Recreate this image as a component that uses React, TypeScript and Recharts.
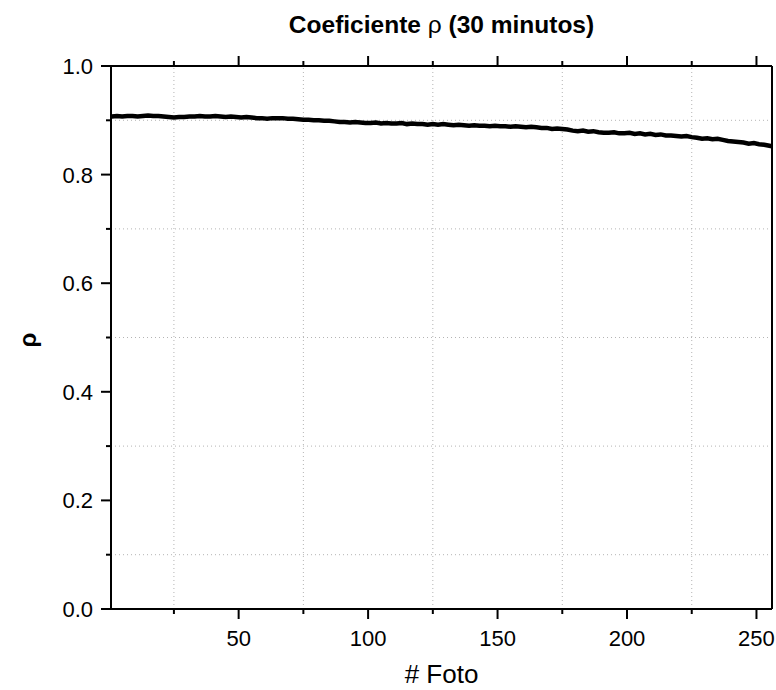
import React from 'react';
import { LineChart, Line, XAxis, YAxis, ReferenceLine } from 'recharts';

const fotoX = [
  1, 3, 5, 7, 9, 11, 13, 15, 17, 19,
  21, 23, 25, 27, 29, 31, 33, 35, 37, 39,
  41, 43, 45, 47, 49, 51, 53, 55, 57, 59,
  61, 63, 65, 67, 69, 71, 73, 75, 77, 79,
  81, 83, 85, 87, 89, 91, 93, 95, 97, 99,
  101, 103, 105, 107, 109, 111, 113, 115, 117, 119,
  121, 123, 125, 127, 129, 131, 133, 135, 137, 139,
  141, 143, 145, 147, 149, 151, 153, 155, 157, 159,
  161, 163, 165, 167, 169, 171, 173, 175, 177, 179,
  181, 183, 185, 187, 189, 191, 193, 195, 197, 199,
  201, 203, 205, 207, 209, 211, 213, 215, 217, 219,
  221, 223, 225, 227, 229, 231, 233, 235, 237, 239,
  241, 243, 245, 247, 249, 251, 253, 255, 256,
];

const rhoValues = [
  0.907, 0.908, 0.907, 0.908, 0.908, 0.907, 0.908, 0.909, 0.908, 0.908,
  0.907, 0.906, 0.905, 0.906, 0.906, 0.907, 0.907, 0.908, 0.907, 0.907,
  0.908, 0.907, 0.906, 0.907, 0.906, 0.905, 0.906, 0.905, 0.904, 0.904,
  0.903, 0.904, 0.904, 0.904, 0.903, 0.903, 0.902, 0.901, 0.901, 0.900,
  0.900, 0.899, 0.899, 0.898, 0.897, 0.897, 0.896, 0.897, 0.896, 0.895,
  0.895, 0.896, 0.894, 0.895, 0.894, 0.894, 0.895, 0.893, 0.894, 0.893,
  0.893, 0.892, 0.893, 0.892, 0.893, 0.892, 0.891, 0.892, 0.891, 0.890,
  0.891, 0.890, 0.890, 0.889, 0.890, 0.889, 0.889, 0.888, 0.889, 0.888,
  0.887, 0.888, 0.887, 0.886, 0.886, 0.884, 0.885, 0.884, 0.883, 0.881,
  0.880, 0.881, 0.879, 0.880, 0.878, 0.877, 0.877, 0.878, 0.876, 0.876,
  0.877, 0.875, 0.876, 0.874, 0.875, 0.873, 0.874, 0.872, 0.872, 0.871,
  0.870, 0.871, 0.869, 0.868, 0.866, 0.867, 0.865, 0.866, 0.864, 0.862,
  0.861, 0.860, 0.859, 0.857, 0.858, 0.856, 0.855, 0.853, 0.852,
];

const xTicks = [25, 50, 75, 100, 125, 150, 175, 200, 225, 250];
const xMajorTicks = [50, 100, 150, 200, 250];
const yTicks = [0, 0.1, 0.2, 0.3, 0.4, 0.5, 0.6, 0.7, 0.8, 0.9, 1.0];
const yMajorTicks = [0, 0.2, 0.4, 0.6, 0.8, 1.0];
const xGrid = [25, 75, 125, 175, 225];
const yGrid = [0.1, 0.3, 0.5, 0.7, 0.9];

const chartData = fotoX.map((x, i) => ({ x, rho: rhoValues[i] }));

const FONT = '"Liberation Sans", Arial, sans-serif';
const MAJOR = 10;
const MINOR = 5;

const isMajorX = (v: number) => xMajorTicks.includes(v);
const isMajorY = (v: number) => yMajorTicks.some((t) => Math.abs(t - v) < 1e-6);

const BottomTick = (props: any) => {
  const { x, y, payload } = props;
  const major = isMajorX(payload.value);
  return (
    <g>
      <line x1={x} x2={x} y1={y} y2={y + (major ? MAJOR : MINOR)} stroke="#000" strokeWidth={2} />
      {major && (
        <text x={x} y={y + 37} textAnchor="middle" fontSize={22} fontFamily={FONT} fill="#000">
          {payload.value}
        </text>
      )}
    </g>
  );
};

const TopTick = (props: any) => {
  const { x, y, payload } = props;
  const major = isMajorX(payload.value);
  return (
    <line x1={x} x2={x} y1={y} y2={y - (major ? MAJOR : MINOR)} stroke="#000" strokeWidth={2} />
  );
};

const LeftTick = (props: any) => {
  const { x, y, payload } = props;
  const major = isMajorY(payload.value);
  return (
    <g>
      <line x1={x} x2={x - (major ? MAJOR : MINOR)} y1={y} y2={y} stroke="#000" strokeWidth={2} />
      {major && (
        <text x={x - 18} y={y + 8} textAnchor="end" fontSize={22} fontFamily={FONT} fill="#000">
          {Number(payload.value).toFixed(1)}
        </text>
      )}
    </g>
  );
};

export default function App() {
  return (
    <div style={{ position: 'absolute', left: 0, top: 0, width: 776, height: 690, background: '#fff' }}>
      <LineChart
        width={776}
        height={690}
        data={chartData}
        margin={{ top: 0, right: 0, bottom: 0, left: 0 }}
      >
        {xGrid.map((v) => (
          <ReferenceLine key={'gx' + v} x={v} stroke="#b4b4b4" strokeWidth={1} strokeDasharray="1 3" />
        ))}
        {yGrid.map((v) => (
          <ReferenceLine key={'gy' + v} y={v} stroke="#b4b4b4" strokeWidth={1} strokeDasharray="1 3" />
        ))}
        <XAxis
          dataKey="x"
          type="number"
          domain={[0.7, 256]}
          ticks={xTicks}
          interval={0}
          allowDataOverflow
          height={81}
          tickSize={0}
          tickMargin={0}
          tick={BottomTick}
          tickLine={false}
          axisLine={{ stroke: '#000', strokeWidth: 2 }}
          label={() => (
            <text x={441.5} y={683} textAnchor="middle" fontSize={26} fontFamily={FONT} fill="#000">
              # Foto
            </text>
          )}
        />
        <XAxis
          xAxisId="top"
          orientation="top"
          dataKey="x"
          type="number"
          domain={[0.7, 256]}
          ticks={xTicks}
          interval={0}
          allowDataOverflow
          height={66}
          tickSize={0}
          tickMargin={0}
          tick={TopTick}
          tickLine={false}
          axisLine={{ stroke: '#000', strokeWidth: 2 }}
          label={() => (
            <text x={441.5} y={33} textAnchor="middle" fontSize={24.5} fontWeight="bold" fontFamily={FONT} fill="#000">
              Coeficiente <tspan fontWeight="normal">ρ</tspan> (30 minutos)
            </text>
          )}
        />
        <YAxis
          type="number"
          domain={[0, 1]}
          ticks={yTicks}
          interval={0}
          width={111}
          tickSize={0}
          tickMargin={0}
          tick={LeftTick}
          tickLine={false}
          axisLine={{ stroke: '#000', strokeWidth: 2 }}
          label={() => (
            <text
              x={36}
              y={340}
              textAnchor="middle"
              fontSize={24}
              fontWeight="bold"
              fontFamily={FONT}
              fill="#000"
              transform="rotate(-90 36 340)"
            >
              ρ
            </text>
          )}
        />
        <YAxis
          yAxisId="right"
          orientation="right"
          type="number"
          domain={[0, 1]}
          width={4}
          tick={false}
          tickLine={false}
          axisLine={{ stroke: '#000', strokeWidth: 2 }}
        />
        <Line
          type="linear"
          dataKey="rho"
          stroke="#000"
          strokeWidth={4.5}
          dot={false}
          isAnimationActive={false}
        />
      </LineChart>
    </div>
  );
}
